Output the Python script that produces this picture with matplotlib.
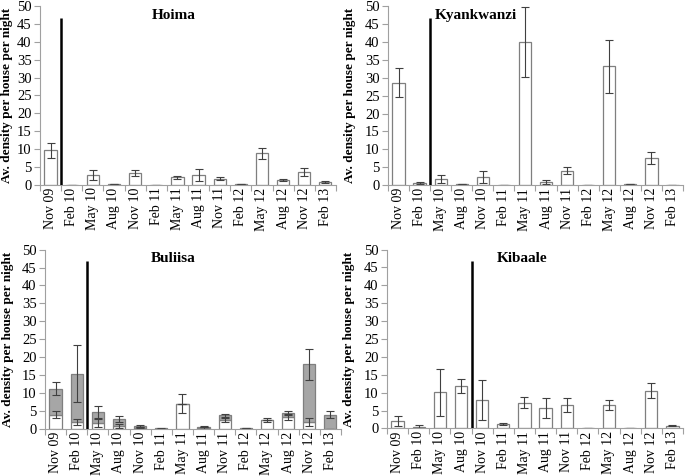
import numpy as np
import matplotlib
matplotlib.use('Agg')
import matplotlib.pyplot as plt

plt.rcParams['font.family'] = ['Liberation Serif', 'DejaVu Serif']

months = ['Nov 09', 'Feb 10', 'May 10', 'Aug 10', 'Nov 10', 'Feb 11', 'May 11',
          'Aug 11', 'Nov 11', 'Feb 12', 'May 12', 'Aug 12', 'Nov 12', 'Feb 13']

# Hoima
hoima = [9.6, 0, 2.6, 0.2, 3.2, 0, 2.1, 2.6, 1.7, 0.2, 8.8, 1.3, 3.6, 0.8]
hoima_err = [2.1, 0, 1.4, 0, 0.9, 0, 0.4, 1.7, 0.4, 0, 1.6, 0.4, 1.2, 0.3]

# Kyankwanzi
kyank = [28.6, 0.5, 1.7, 0.2, 2.3, 0, 40.0, 0.9, 4.0, 0, 33.2, 0.2, 7.6, 0]
kyank_err = [4.0, 0.3, 1.0, 0, 1.7, 0, 9.8, 0.5, 1.0, 0, 7.4, 0, 1.8, 0]

# Buliisa (stacked: white part + grey part)
buli_white = [4.0, 2.0, 1.7, 0.9, 0.4, 0, 7.1, 0.3, 2.6, 0, 2.6, 3.4, 2.0, 0]
buli_white_err = [1.0, 0.9, 1.0, 0.5, 0.2, 0, 2.7, 0.2, 0.6, 0, 0.6, 0.9, 1.2, 0]
buli_grey = [7.2, 13.4, 3.1, 1.9, 0.5, 0.2, 0, 0.4, 1.2, 0.3, 0, 1.1, 16.0, 4.0]
buli_grey_err = [1.8, 7.9, 1.7, 0.8, 0.2, 0.1, 0, 0.2, 0.5, 0.1, 0, 0.5, 4.4, 0.9]

# Kibaale
kibaale = [2.1, 0.5, 10.1, 11.8, 8.0, 1.3, 7.2, 5.6, 6.6, 0.2, 6.6, 0, 10.5, 0.8]
kibaale_err = [1.4, 0.5, 6.5, 2.0, 5.6, 0.3, 1.6, 2.8, 2.0, 0, 1.5, 0, 2.1, 0.2]

# position of the vertical marker line (between two sampling rounds)
line_pos = {'Hoima': 0.5, 'Kyankwanzi': 1.5, 'Buliisa': 1.5, 'Kibaale': 3.5}
line_top = 46.7

fig = plt.figure(figsize=(6.85, 4.76), dpi=100)

ax_spec = {
    'Hoima': [0.0584, 0.612, 0.432, 0.375],
    'Kyankwanzi': [0.5664, 0.611, 0.4307, 0.376],
    'Buliisa': [0.0657, 0.0987, 0.432, 0.377],
    'Kibaale': [0.565, 0.0998, 0.432, 0.376],
}
title_pos = {'Hoima': (0.453, 'center'), 'Kyankwanzi': (0.157, 'left'),
             'Buliisa': (0.432, 'center'), 'Kibaale': (0.456, 'center')}
ylabel_x = {'Hoima': -0.092, 'Kyankwanzi': -0.108, 'Buliisa': -0.106, 'Kibaale': -0.108}

x = np.arange(len(months))
bw = 0.58
edge = '#7f7f7f'
ecol = '#404040'
ekw = dict(ecolor=ecol, elinewidth=0.8, capsize=3, capthick=0.8)


def style_axes(ax, name):
    ax.set_xlim(-0.5, len(months) - 0.5)
    ax.set_ylim(0, 50)
    ax.set_yticks(np.arange(0, 51, 5))
    ax.set_xticks(x)
    ax.set_xticklabels(months, rotation=90, fontsize=10)
    ax.set_xticks(np.arange(-0.5, len(months), 1), minor=True)
    ax.tick_params(axis='x', which='major', length=0, pad=2)
    ax.tick_params(axis='x', which='minor', length=4, color='#a0a0a0', width=0.8)
    ax.tick_params(axis='y', length=4, color='#a0a0a0', width=0.8, labelsize=10.5, pad=2)
    for s in ['top', 'right']:
        ax.spines[s].set_visible(False)
    for s in ['left', 'bottom']:
        ax.spines[s].set_color('#a0a0a0')
        ax.spines[s].set_linewidth(0.8)
    ax.set_ylabel('Av. density per house per night', fontsize=9.5, fontweight='bold')
    ax.yaxis.set_label_coords(ylabel_x[name], 0.5)
    tx, ha = title_pos[name]
    ax.text(tx, 0.95, name, transform=ax.transAxes, ha=ha, va='center',
            fontsize=11, fontweight='bold')
    ax.vlines(line_pos[name], 0, line_top, colors='black', linewidth=1.8, zorder=5)


singles = {'Hoima': (hoima, hoima_err), 'Kyankwanzi': (kyank, kyank_err),
           'Kibaale': (kibaale, kibaale_err)}

for name, rect in ax_spec.items():
    ax = fig.add_axes(rect)
    if name == 'Buliisa':
        ax.bar(x, buli_white, bw, color='white', edgecolor=edge, linewidth=0.9,
               yerr=buli_white_err, error_kw=ekw)
        ax.bar(x, buli_grey, bw, bottom=buli_white, color='#a6a6a6', edgecolor=edge,
               linewidth=0.9, yerr=buli_grey_err, error_kw=ekw)
    else:
        vals, errs = singles[name]
        ax.bar(x, vals, bw, color='white', edgecolor=edge, linewidth=0.9,
               yerr=errs, error_kw=ekw)
    style_axes(ax, name)

plt.savefig('out.png', dpi=100)
